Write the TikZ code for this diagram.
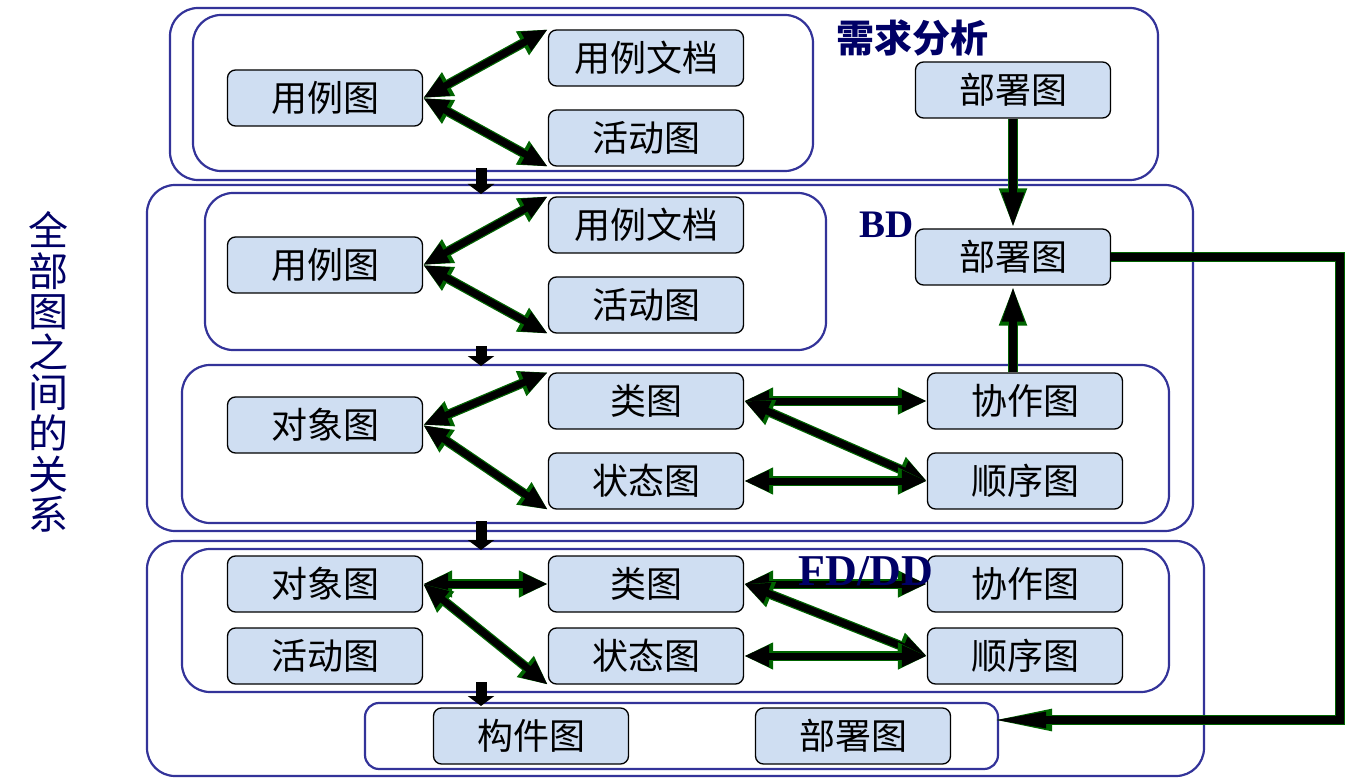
\documentclass[tikz,border=0pt]{standalone}
\usepackage{fontspec}
\setmainfont{Liberation Serif}
\newfontfamily\cjk{Noto Sans CJK SC}
\usetikzlibrary{arrows.meta}

\definecolor{framecol}{RGB}{51,51,153}
\definecolor{boxfill}{RGB}{207,222,242}
\definecolor{arrowedge}{RGB}{0,100,0}
\definecolor{labelcol}{RGB}{0,0,102}

\tikzset{
  diag/.style={draw=black, fill=boxfill, rounded corners=8pt, line width=1.3pt,
    minimum width=195pt, minimum height=56pt, inner sep=0pt,
    font=\cjk\fontsize{36}{38}\selectfont},
  frame/.style={draw=framecol, line width=2.2pt, rounded corners=28pt},
  fat/.style={line width=7pt, draw=black,
    {Triangle[length=25pt,width=20pt]}-{Triangle[length=25pt,width=20pt]},
    preaction={draw=arrowedge, line width=9.5pt,
      {Triangle[length=29pt,width=25pt]}-{Triangle[length=29pt,width=25pt]}}},
  fatone/.style={line width=8pt, draw=black, line join=miter,
    -{Triangle[length=36pt,width=20pt]},
    preaction={draw=arrowedge, line width=10.5pt, line join=miter,
      -{Triangle[length=40pt,width=25pt]}}},
  fatlong/.style={line width=8pt, draw=black, line join=miter,
    -{Triangle[length=60pt,width=14pt]},
    preaction={draw=arrowedge, line width=10.5pt, line join=miter,
      -{Triangle[length=66pt,width=19pt]}}},
  drop/.style={line width=11pt, draw=black, -{Triangle[length=10pt,width=26pt]}},
  tag/.style={text=labelcol, inner sep=0pt, font=\bfseries\fontsize{33}{36}\selectfont},
}

\begin{document}
\begin{tikzpicture}[x=1pt,y=-1pt]
\useasboundingbox (0,0) rectangle (1353,778);

% frames
\draw[frame] (170,8) rectangle (1158,180);
\draw[frame] (193,15) rectangle (813,171);
\draw[frame] (147,185) rectangle (1193,531);
\draw[frame] (205,193) rectangle (826,350);
\draw[frame] (182,365) rectangle (1169,523);
\draw[frame] (147,541) rectangle (1204,776);
\draw[frame] (182,549) rectangle (1169,692);
\draw[frame, rounded corners=14pt] (365,703) rectangle (998,769);

% requirement analysis
\node[diag] (usecase1) at (325,98) {用例图};
\node[diag] (usedoc1) at (646,58) {用例文档};
\node[diag] (activity1) at (646,138) {活动图};
\node[diag] (deploy1) at (1013,90) {部署图};

% BD
\node[diag] (usecase2) at (325,265) {用例图};
\node[diag] (usedoc2) at (646,225) {用例文档};
\node[diag] (activity2) at (646,305) {活动图};
\node[diag] (deploy2) at (1013,257) {部署图};
\node[diag] (object2) at (325,425) {对象图};
\node[diag] (class2) at (646,401) {类图};
\node[diag] (state2) at (646,481) {状态图};
\node[diag] (collab2) at (1025,401) {协作图};
\node[diag] (seq2) at (1025,481) {顺序图};

% FD/DD
\node[diag] (object3) at (325,584) {对象图};
\node[diag] (activity3) at (325,656) {活动图};
\node[diag] (class3) at (646,584) {类图};
\node[diag] (state3) at (646,656) {状态图};
\node[diag] (collab3) at (1025,584) {协作图};
\node[diag] (seq3) at (1025,656) {顺序图};
\node[diag] (comp3) at (531,736) {构件图};
\node[diag] (deploy3) at (853,736) {部署图};

% connectors
\draw[fat] (usecase1.east) -- (usedoc1.north west);
\draw[fat] (usecase1.east) -- (activity1.south west);
\draw[fat] (usecase2.east) -- (usedoc2.north west);
\draw[fat] (usecase2.east) -- (activity2.south west);
\draw[fat] (object2.east) -- (class2.north west);
\draw[fat] (object2.east) -- (state2.south west);
\draw[fat] (class2.east) -- (collab2.west);
\draw[fat] (class2.east) -- (seq2.west);
\draw[fat] (state2.east) -- (seq2.west);
\draw[fat] (object3.east) -- (class3.west);
\draw[fat] (object3.east) -- (state3.south west);
\draw[fat] (class3.east) -- (collab3.west);
\draw[fat] (class3.east) -- (seq3.west);
\draw[fat] (state3.east) -- (seq3.west);

\draw[fatone] (deploy1.south) -- (deploy2.north);
\draw[fatone] (collab2.north -| deploy2.south) -- (deploy2.south);
\coordinate (loopc) at (1340,720);
\coordinate (loopin) at (986,720);
\draw[fatlong] (deploy2.east) -| (loopc) -- (loopin);

% drops between frames
\coordinate (d1a) at (481,168);
\coordinate (d1b) at (481,194);
\coordinate (d2a) at (481,346);
\coordinate (d2b) at (481,366);
\coordinate (d3a) at (481,521);
\coordinate (d3b) at (481,550);
\coordinate (d4a) at (481,682);
\coordinate (d4b) at (481,706);
\draw[drop] (d1a) -- (d1b);
\draw[drop] (d2a) -- (d2b);
\draw[drop] (d3a) -- (d3b);
\draw[drop] (d4a) -- (d4b);

% labels
\node[tag, font=\cjk\bfseries\fontsize{38}{40}\selectfont] (reqlabel) at (912,38) {需求分析};
\node[tag, font=\bfseries\fontsize{39}{40}\selectfont] (bdlabel) at (887,225) {BD};
\node[tag, font=\bfseries\fontsize{44}{46}\selectfont] (fdlabel) at (866,571) {FD/DD};
\node[text=labelcol, align=center, inner sep=0pt, font=\cjk\fontsize{40}{40.6}\selectfont] (title) at (48,372)
  {全\\部\\图\\之\\间\\的\\关\\系};
\end{tikzpicture}
\end{document}
